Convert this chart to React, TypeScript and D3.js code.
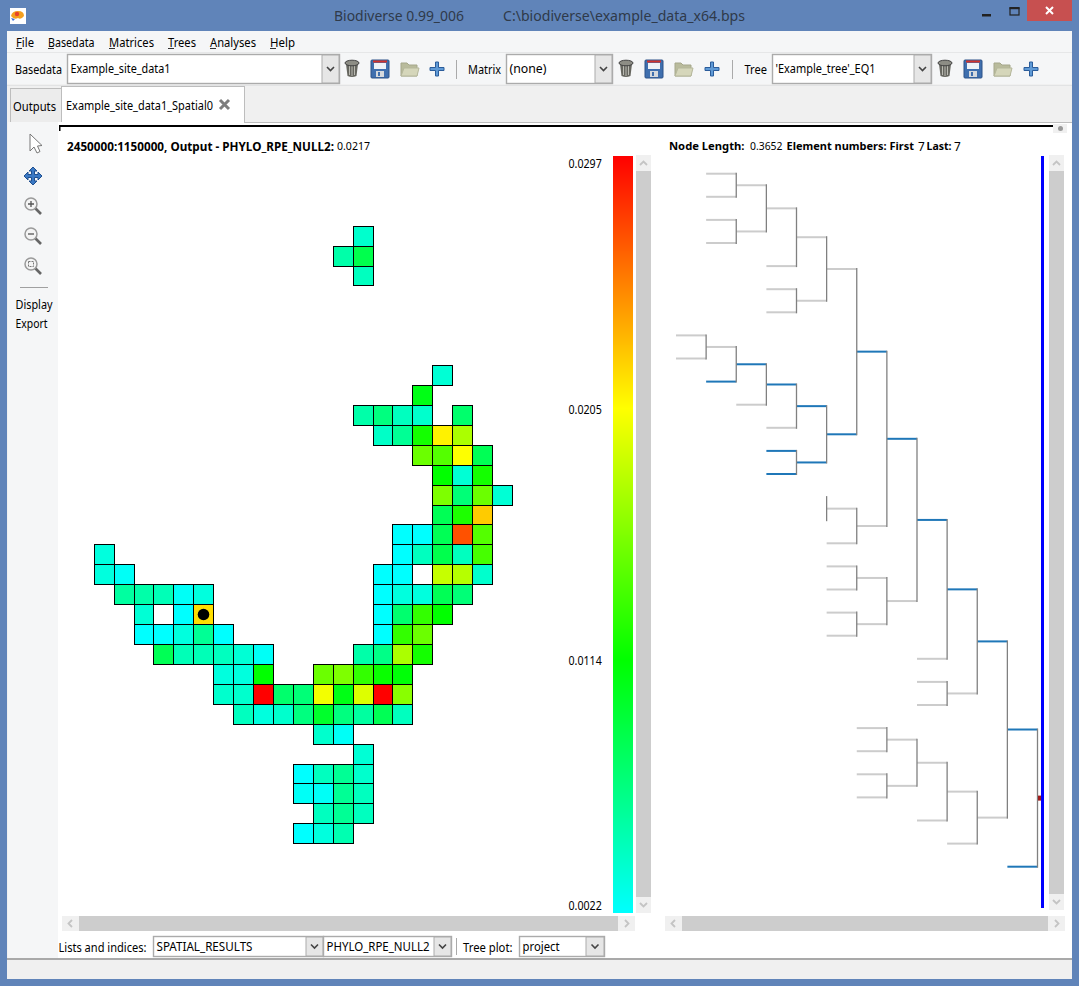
import React from 'react'
import * as d3 from 'd3'

type Nested = number | Nested[]

// Map cells as [row, first column, values]; null is a cell with no value
const gridSegments: [number, number, (number | null)[]][] = [
  [0, 13, [0.004]],
  [1, 12, [0.0053, 0.0086]],
  [2, 13, [0.0045]],
  [7, 17, [0.0037]],
  [8, 16, [0.0106]],
  [9, 13, [0.0053, 0.0068, 0.0045, 0.004]],
  [9, 18, [0.0075]],
  [10, 14, [0.0042, 0.006, 0.0121, 0.021, 0.0175]],
  [11, 16, [0.0152, 0.0144, 0.0205, 0.0083]],
  [12, 17, [0.0114, 0.0037, 0.0121]],
  [13, 17, [0.0159, 0.0071, 0.0152, 0.0037]],
  [14, 17, [0.0083, 0.0124, 0.0224]],
  [15, 15, [0.0022, 0.0022, 0.0083, 0.0268, 0.0144]],
  [16, 0, [0.0034]],
  [16, 15, [0.0022, 0.0045, 0.0086, 0.0045, 0.0139]],
  [17, 0, [0.0034, 0.0025]],
  [17, 14, [0.0022, 0.0022, null, 0.0185, 0.0179, 0.004]],
  [18, 1, [0.0056, 0.0053, 0.0048, 0.0025, 0.0034]],
  [18, 14, [0.0022, 0.0034, 0.0034, 0.0083, 0.0071]],
  [19, 2, [0.0037, null, 0.0022, 0.0217]],
  [19, 14, [0.0022, 0.0074, 0.0132, 0.0114]],
  [20, 2, [0.0022, 0.0022, 0.0034, 0.006, 0.0022]],
  [20, 14, [0.0022, 0.0132, 0.0152]],
  [21, 3, [0.0083, 0.0048, 0.0048, 0.0045, 0.0037, 0.0025]],
  [21, 13, [0.0053, 0.0065, 0.0175, 0.0121]],
  [22, 6, [0.0034, 0.0034, 0.0114]],
  [22, 11, [0.0152, 0.0159, 0.0132, 0.0117, 0.0111]],
  [23, 6, [0.004, 0.004, 0.0297, 0.0075, 0.0071, 0.0201, 0.0106, 0.0193, 0.0297, 0.0163]],
  [24, 7, [0.0045, 0.0034, 0.004, 0.0068, 0.0098, 0.0068, 0.0056, 0.0083, 0.0045]],
  [25, 11, [0.004, 0.0025]],
  [26, 13, [0.0037]],
  [27, 10, [0.0022, 0.0045, 0.006, 0.004]],
  [28, 10, [0.0025, 0.0025, 0.006, 0.0045]],
  [29, 11, [0.0045, 0.006, 0.0045]],
  [30, 10, [0.0022, 0.0034, 0.005]],
]

const selectedCell = { row: 19, col: 5 }

const legendDomain = [0.0022, 0.0297]
const legendTicks = ['0.0297', '0.0205', '0.0114', '0.0022']

// Tree, with the leaves numbered from the top down
const cladeU: Nested = [[[[0, 1], [2, 3]], 4], [5, 6]]
const cladeV: Nested = [[[[[7, 8], 9], 10], 11], [12, 13]]
const cladeK: Nested = [[cladeU, cladeV], [[14, 15], 16]]
const cladeB: Nested = [[[cladeK, [[17, 18], [19, 20]]], 21], [22, 23]]
const cladeC: Nested = [[[[24, 25], [26, 27]], 28], 29]
const treeData: Nested = [[cladeB, cladeC], 30]

const activeLeaves = [9, 12, 13, 30]
const unlabelledLeaves = [14, 15]

const menuItems: [string, number, number][] = [
  ['File', 16, 18], ['Basedata', 48, 46.5], ['Matrices', 109, 45],
  ['Trees', 168, 28], ['Analyses', 210, 46], ['Help', 270, 25],
]

const UI_FONT = '"Noto Sans", "Open Sans", sans-serif'
const TREE_BLUE = '#1f77b8'
const PANEL = '#f5f6f7'
const FACE = '#f0f0f0'
const THUMB = '#cdcdcd'

const gridX = d3.scaleLinear().domain([0, 21]).range([94.2, 512.5])
const gridY = d3.scaleLinear().domain([0, 31]).range([226.2, 843.7])
const cellX = (c: number) => Math.floor(gridX(c)) + 0.5
const cellY = (r: number) => Math.floor(gridY(r)) + 0.5

const hue = d3.scaleLinear().domain(legendDomain).range([180, 0]).clamp(true)
const colourOf = (v: number) => d3.hsl(hue(v), 1, 0.5).formatHex()

const legendY = d3.scaleLinear().domain(legendDomain).range([913, 156])

// len squeezes the Noto glyphs to the width the text has in the reference
const Label = ({ x, y, children, size = 11.8, weight, anchor, fill = '#000', len }: any) => (
  <text x={x} y={y - 0.5} fontSize={size} fontWeight={weight} textAnchor={anchor} fill={fill}
    textLength={len} lengthAdjust={len ? 'spacingAndGlyphs' : undefined}
    fontFamily={UI_FONT} dominantBaseline="central">{children}</text>
)

function Combo({ x, y, w, h, btn, text, len }: any) {
  return (
    <g>
      <rect x={x + 0.5} y={y + 0.5} width={w} height={h} fill="#fff" stroke="#ababab" strokeWidth={1.4} />
      <rect x={x + btn} y={y + 1} width={w - btn} height={h - 1} fill="#e6e6e6" stroke="#ababab" />
      <path d={`M${x + btn + (w - btn) / 2 - 3.5} ${y + h / 2 - 1.5}l3.5 3.5l3.5 -3.5`} fill="none" stroke="#444" strokeWidth={1.6} />
      <Label x={x + 3.5} y={y + h / 2} len={len}>{text}</Label>
    </g>
  )
}

const Bin = ({ x, y }: any) => (
  <g transform={`translate(${x},${y})`}>
    <path d="M-6 -5L-4.5 7Q0 9 4.500 7L6 -5Z" fill="#66665f" />
    <path d="M-2.5 -3V6M0 -3V7M2.5 -3V6" stroke="#cfcfc8" strokeWidth={0.8} />
    <ellipse cx={0} cy={-6} rx={7} ry={2.8} fill="#8d8d85" stroke="#444" />
  </g>
)

const Disk = ({ x, y }: any) => (
  <g transform={`translate(${x},${y})`}>
    <rect x={-9} y={-9} width={18} height={18} rx={1} fill="#3f6fae" stroke="#2c5288" />
    <rect x={-7} y={-8.5} width={14} height={2} fill="#d2322d" />
    <rect x={-6} y={-6} width={12} height={6} fill="#eef2f7" />
    <rect x={-4} y={2} width={8} height={6} fill="#d5d9dd" />
    <rect x={-2} y={3} width={2} height={4} fill="#3f6fae" />
  </g>
)

const Folder = ({ x, y }: any) => (
  <g transform={`translate(${x},${y})`}>
    <path d="M-9 -6H-3L-1 -4H7V7H-9Z" fill="#b9bb9c" stroke="#a5a78a" />
    <path d="M-9 7L-6 -1H9L7 7Z" fill="#d5d6ba" stroke="#b5b79b" />
  </g>
)

const Plus = ({ x, y }: any) => (
  <path transform={`translate(${x},${y})`} d="M-1.5 -7H1.5V-1.5H7V1.5H1.5V7H-1.5V1.5H-7V-1.5H-1.5Z"
    fill="#5f9ad6" stroke="#2b5c9a" />
)

const ToolIcons = ({ at }: { at: number[] }) => (
  <g>
    <Bin x={at[0]} y={69} />
    <Disk x={at[1]} y={69} />
    <Folder x={at[2]} y={69} />
    <Plus x={at[3]} y={69} />
  </g>
)

const Magnifier = ({ x, y, mark }: any) => (
  <g transform={`translate(${x},${y})`}>
    <line x1={3} y1={3} x2={9} y2={9} stroke="#666" strokeWidth={2.6} />
    <circle cx={-1} cy={-1} r={6} fill="#f4f4f4" stroke="#9a9a9a" strokeWidth={1.5} />
    {mark === 'in' && <path d="M-4 -1H2M-1 -4V2" stroke="#555" strokeWidth={1.3} />}
    {mark === 'out' && <path d="M-4 -1H2" stroke="#555" strokeWidth={1.3} />}
    {mark === 'fit' && <rect x={-3.5} y={-3.5} width={5} height={5} fill="none" stroke="#777" strokeDasharray="2 1" />}
  </g>
)

function VBar({ x, top, bottom }: any) {
  return (
    <g>
      <rect x={x} y={top} width={15} height={bottom - top} fill={FACE} />
      <rect x={x} y={top + 16} width={15} height={bottom - top - 32} fill={THUMB} />
      <path d={`M${x + 4} ${top + 10}l3.5 -3.5l3.5 3.5`} fill="none" stroke="#c4c4c4" strokeWidth={1.8} />
      <path d={`M${x + 4} ${bottom - 10}l3.5 3.5l3.5 -3.5`} fill="none" stroke="#c4c4c4" strokeWidth={1.8} />
    </g>
  )
}

function HBar({ left, right }: any) {
  return (
    <g>
      <rect x={left} y={916} width={right - left} height={15} fill={FACE} />
      <rect x={left + 17} y={916} width={right - left - 34} height={15} fill={THUMB} />
      <path d={`M${left + 10} 920l-3.5 3.5l3.5 3.5`} fill="none" stroke="#c4c4c4" strokeWidth={1.8} />
      <path d={`M${right - 10} 920l3.5 3.5l-3.5 3.5`} fill="none" stroke="#c4c4c4" strokeWidth={1.8} />
    </g>
  )
}

function MapPanel() {
  const cells = gridSegments.flatMap(([row, first, values]) =>
    values.map((value, i) => ({ row, col: first + i, value })))
  return (
    <g shapeRendering="crispEdges">
      {cells.map(c => (
        <rect key={`${c.row}-${c.col}`} x={cellX(c.col)} y={cellY(c.row)}
          width={cellX(c.col + 1) - cellX(c.col)} height={cellY(c.row + 1) - cellY(c.row)}
          fill={c.value === null ? '#fff' : colourOf(c.value)} stroke="#000" />
      ))}
      <circle shapeRendering="auto" cx={(cellX(selectedCell.col) + cellX(selectedCell.col + 1)) / 2}
        cy={(cellY(selectedCell.row) + cellY(selectedCell.row + 1)) / 2} r={5.8} fill="#000" />
    </g>
  )
}

function Legend() {
  const steps = d3.range(156, 913)
  return (
    <g>
      {steps.map(y => (
        <rect key={y} x={613} y={y} width={20} height={1.2} fill={colourOf(legendY.invert(y + 0.5))} shapeRendering="crispEdges" />
      ))}
      {legendTicks.map(t => (
        <Label key={t} x={568.5} y={Math.min(905, Math.max(163, legendY(+t))) + 0.5} len={33.3}>{t}</Label>
      ))}
    </g>
  )
}

function TreePanel() {
  const root = d3.hierarchy<Nested>(treeData, d => (Array.isArray(d) ? d : null))
  d3.cluster<Nested>().nodeSize([1, 1]).separation(() => 1)(root)
  const leaves = root.leaves()
  const y = d3.scaleLinear()
    .domain(d3.extent(leaves, d => d.x as number) as [number, number])
    .range([173.7, 866.7])
  const x = d3.scaleLinear().domain([0, 12]).range([1037.5, 676])
  const isActive = (n: d3.HierarchyNode<Nested>) =>
    n.leaves().some(l => activeLeaves.includes(l.data as number))

  return (
    <g>
      {root.descendants().filter(n => n.parent).map((n, i) => {
        const hidden = !n.children && unlabelledLeaves.includes(n.data as number)
        return hidden ? null : (
          <line key={i} x1={x(n.depth)} x2={x(n.depth - 1)} y1={y(n.x as number)} y2={y(n.x as number)}
            stroke={isActive(n) ? TREE_BLUE : '#cccccc'} strokeWidth={2} />
        )
      })}
      {root.descendants().filter(n => n.children).map((n, i) => {
        const ys = n.children!.map(c => y(c.x as number))
        return (
          <line key={i} x1={x(n.depth)} x2={x(n.depth)} y1={Math.min(...ys) - 1} y2={Math.max(...ys) + 1}
            stroke="#808080" strokeWidth={1.3} />
        )
      })}
      <rect x={1038} y={y(root.x as number) - 2.5} width={3.5} height={5} fill="#a01c1c" />
      <rect x={1041} y={156} width={3} height={752} fill="#0000ff" />
    </g>
  )
}

export default function App() {
  return (
    <svg width={1079} height={986} viewBox="0 0 1079 986" style={{ position: 'absolute', left: 0, top: 0 }}>
      {/* window frame */}
      <rect width={1079} height={986} fill="#6084b9" />
      <rect x={7} y={31} width={1065} height={948} fill={FACE} />
      <rect x={10} y={8} width={16} height={16} fill="#fff" />
      <path d="M11 16q1 -5 7 -5q6 0 6 5q-3 4 -6 2q-4 2 -7 -2Z" fill="#f4a020" />
      <circle cx={17} cy={14} r={2.2} fill="#e8432a" />
      <path d="M11 18l4 1l-2 2Z" fill="#3b6fd8" />
      <Label x={334} y={16} size={14} fill="#2f3a4a" len={130}>Biodiverse 0.99_006</Label>
      <Label x={503} y={16} size={14} fill="#2f3a4a" len={242}>{'C:\\biodiverse\\example_data_x64.bps'}</Label>
      <rect x={982} y={14} width={9} height={2.5} fill="#222" />
      <rect x={1010} y={8} width={9} height={7} fill="none" stroke="#222" strokeWidth={1.2} />
      <rect x={1009.5} y={7} width={10} height={2.2} fill="#222" />
      <rect x={1027} y={0} width={45} height={21} fill="#c75050" />
      <path d="M1046 7l7 7M1053 7l-7 7" stroke="#fff" strokeWidth={2} />

      {/* menu and toolbar */}
      <rect x={7} y={31} width={1065} height={53} fill={PANEL} />
      <line x1={7} x2={1072} y1={52.5} y2={52.5} stroke="#e6e7e8" />
      <line x1={7} x2={1072} y1={85.5} y2={85.5} stroke="#e2e3e4" />
      {menuItems.map(([m, mx, len]) => (
        <g key={m}>
          <Label x={mx} y={42} len={len}>{m}</Label>
          <line x1={mx} x2={mx + 6} y1={48.5} y2={48.5} stroke="#000" strokeWidth={0.8} />
        </g>
      ))}
      <Label x={15} y={69} len={47}>Basedata</Label>
      <Combo x={67} y={54} w={272} h={29} btn={255} text="Example_site_data1" len={100} />
      <ToolIcons at={[352, 380, 410, 437]} />
      <line x1={456.5} x2={456.5} y1={60} y2={79} stroke="#aaa" />
      <Label x={468} y={69} len={33}>Matrix</Label>
      <Combo x={506} y={54} w={106} h={29} btn={89} text="(none)" len={37} />
      <ToolIcons at={[626, 654, 684, 712]} />
      <line x1={732.5} x2={732.5} y1={60} y2={79} stroke="#aaa" />
      <Label x={744.5} y={69} len={22.5}>Tree</Label>
      <Combo x={772} y={54} w={159} h={29} btn={142} text="'Example_tree'_EQ1" len={100} />
      <ToolIcons at={[945, 973, 1003, 1031]} />

      {/* tabs */}
      <rect x={10.5} y={88.5} width={51} height={34} fill="#ececec" stroke="#bdbdbd" />
      <Label x={13} y={106} len={43}>Outputs</Label>
      <rect x={61.5} y={86.5} width={183} height={36} fill="#fff" stroke="#bdbdbd" />
      <Label x={66} y={105} len={147}>Example_site_data1_Spatial0</Label>
      <path d="M220 100l9 9M229 100l-9 9" stroke="#7d7d7d" strokeWidth={3} />

      {/* main area */}
      <rect x={8} y={122} width={1064} height={836} fill="#fff" />
      <rect x={8} y={122} width={50} height={836} fill={PANEL} />
      <rect x={244} y={122} width={828} height={1} fill="#bdbdbd" />
      <rect x={59} y={125} width={998} height={2} fill="#000" />
      <rect x={59} y={125} width={1.5} height={6} fill="#000" />
      <rect x={1053} y={124} width={14} height={9} fill={FACE} />
      <circle cx={1060.5} cy={128.5} r={2.5} fill="#999" />

      {/* left tool strip */}
      <path d="M30 134V151L34 147L37 153L40 151.500L37.500 146L42 145.500Z" fill="#fff" stroke="#777" />
      <path d="M33 167l4 4h-2.500v3.500H38v-2.500l4 4l-4 4v-2.500h-3.500V181H37l-4 4l-4 -4h2.500v-3.500H28v2.500l-4 -4l4 -4v2.500h3.500V171H29Z" fill="#3b79c4" stroke="#1f4f8f" />
      <Magnifier x={32} y={205} mark="in" />
      <Magnifier x={32} y={235} mark="out" />
      <Magnifier x={32} y={265} mark="fit" />
      <line x1={20} x2={48} y1={287.5} y2={287.5} stroke="#a0a0a0" />
      <Label x={15.5} y={304} len={37}>Display</Label>
      <Label x={15.5} y={323} len={32}>Export</Label>

      {/* headings */}
      <Label x={67} y={146} weight="bold" size={11.7} len={267}>2450000:1150000, Output - PHYLO_RPE_NULL2:</Label>
      <Label x={337} y={146} size={11} len={33}>0.0217</Label>
      <Label x={669} y={146} weight="bold" size={11.2} len={75.5}>Node Length:</Label>
      <Label x={750} y={146} size={11} len={32.5}>0.3652</Label>
      <Label x={786.500} y={146} weight="bold" size={11.1} len={127.5}>Element numbers: First</Label>
      <Label x={918} y={146}>7</Label>
      <Label x={926.500} y={146} weight="bold" size={11.2} len={25}>Last:</Label>
      <Label x={954} y={146}>7</Label>

      <MapPanel />
      <Legend />
      <VBar x={636} top={155} bottom={913} />
      <TreePanel />
      <VBar x={1049} top={155} bottom={910} />
      <HBar left={62} right={635} />
      <HBar left={665} right={1065} />

      {/* bottom controls */}
      <rect x={7} y={958} width={1065} height={21} fill={FACE} />
      <rect x={7} y={958} width={1065} height={2} fill="#a9a9a9" />
      <Label x={58.5} y={947} len={88}>Lists and indices:</Label>
      <Combo x={153} y={936} w={170} h={20} btn={153} text="SPATIAL_RESULTS" len={96} />
      <Combo x={323} y={936} w={128} h={20} btn={111} text="PHYLO_RPE_NULL2" len={103} />
      <line x1={456.5} x2={456.5} y1={938} y2={955} stroke="#aaa" />
      <Label x={463} y={947} len={49.5}>Tree plot:</Label>
      <Combo x={519} y={936} w={85} h={20} btn={67} text="project" len={37} />
    </svg>
  )
}
